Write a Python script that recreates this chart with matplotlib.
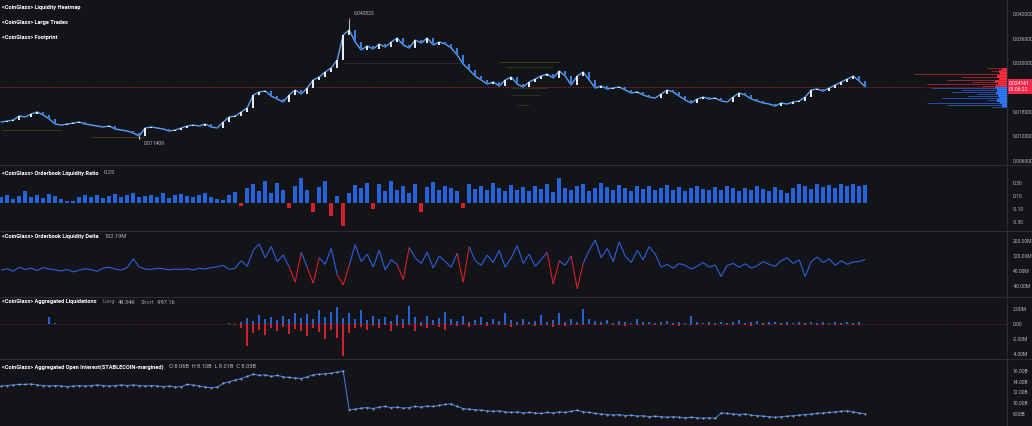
import numpy as np
import matplotlib
matplotlib.use('Agg')
import matplotlib.pyplot as plt
from matplotlib.collections import LineCollection
from matplotlib.lines import Line2D
import matplotlib.transforms as mtrans

plt.rcParams['font.family'] = ['Roboto', 'DejaVu Sans']

# ---------------- data ----------------
price_close = [0.01549, 0.01574, 0.01598, 0.01697, 0.01672, 0.01746, 0.01795, 0.01721, 0.01623, 0.01500,
               0.01475, 0.01500, 0.01525, 0.01549, 0.01500, 0.01475, 0.01451, 0.01426, 0.01451, 0.01377,
               0.01352, 0.01328, 0.01279, 0.01205, 0.01402, 0.01426, 0.01402, 0.01377, 0.01328, 0.01352,
               0.01402, 0.01451, 0.01475, 0.01451, 0.01500, 0.01426, 0.01402, 0.01549, 0.01672, 0.01697,
               0.01795, 0.01893, 0.02213, 0.02287, 0.02311, 0.02188, 0.02115, 0.02041, 0.02213, 0.02336,
               0.02238, 0.02385, 0.02582, 0.02656, 0.02779, 0.02877, 0.03074, 0.03688, 0.03811, 0.03516,
               0.03320, 0.03418, 0.03344, 0.03467, 0.03393, 0.03516, 0.03615, 0.03443, 0.03369, 0.03565,
               0.03492, 0.03615, 0.03443, 0.03516, 0.03467, 0.03369, 0.03197, 0.02975, 0.02828, 0.02680,
               0.02582, 0.02483, 0.02533, 0.02434, 0.02582, 0.02656, 0.02483, 0.02410, 0.02533, 0.02606,
               0.02680, 0.02729, 0.02631, 0.02803, 0.02680, 0.02459, 0.02680, 0.02779, 0.02582, 0.02385,
               0.02434, 0.02361, 0.02385, 0.02410, 0.02336, 0.02262, 0.02287, 0.02213, 0.02164, 0.02139,
               0.02238, 0.02336, 0.02287, 0.02188, 0.02090, 0.02016, 0.02115, 0.02164, 0.02115, 0.02139,
               0.02066, 0.02041, 0.02164, 0.02262, 0.02213, 0.02115, 0.02066, 0.02016, 0.01992, 0.01943,
               0.02016, 0.01992, 0.02041, 0.02066, 0.02164, 0.02336, 0.02361, 0.02311, 0.02385, 0.02459,
               0.02533, 0.02606, 0.02680, 0.02557, 0.024161]
price_high_value = 0.040823
price_high_index = 58
price_low_value = 0.011409
price_low_index = 23
current_price = 0.024161
countdown = "01:06:22"
price_ticks = [0.042, 0.036, 0.030, 0.018, 0.012, 0.006]

ratio = [0.08, 0.12, 0.06, 0.10, 0.18, 0.09, 0.11, 0.07, 0.13, 0.10,
         0.05, 0.02, 0.03, 0.09, 0.11, 0.08, 0.12, 0.07, 0.10, 0.13,
         0.09, 0.11, 0.14, 0.08, 0.10, 0.12, 0.09, 0.15, 0.07, 0.11,
         0.13, 0.10, 0.08, 0.12, 0.14, 0.09, 0.06, 0.04, 0.11, 0.16,
         -0.06, 0.22, 0.28, 0.18, 0.33, 0.15, 0.30, 0.20, -0.09, 0.26,
         0.37, 0.19, -0.14, 0.24, 0.33, -0.20, 0.10, -0.36, 0.15, 0.27,
         0.22, 0.30, -0.10, 0.28, 0.18, 0.33, 0.20, 0.25, 0.15, 0.29,
         -0.14, 0.24, 0.31, 0.19, 0.26, 0.22, 0.17, -0.09, 0.28, 0.21,
         0.25, 0.19, 0.30, 0.23, 0.17, 0.27, 0.20, 0.24, 0.18, 0.26,
         0.21, 0.29, 0.16, 0.38, 0.23, 0.19, 0.25, 0.28, 0.17, 0.22,
         0.30, 0.24, 0.20, 0.27, 0.22, 0.18, 0.26, 0.21, 0.25, 0.19,
         0.23, 0.27, 0.20, 0.24, 0.18, 0.22, 0.26, 0.21, 0.19, 0.24,
         0.20, 0.25, 0.22, 0.18, 0.23, 0.19, 0.26, 0.21, 0.17, 0.24,
         0.20, 0.15, 0.23, 0.28, 0.26, 0.21, 0.29, 0.24, 0.27, 0.22,
         0.28, 0.25, 0.29, 0.26, 0.27]
ratio_last = "0.25"
ratio_ticks = [0.30, 0.10, -0.10, -0.30]

delta = [45, 52, 38, 60, 48, 55, 42, 58, 50, 46,
         40, 48, 35, 44, 52, 47, 38, 55, 60, 50,
         45, 58, 105, 62, 50, 48, 55, 52, 46, 50,
         48, 52, 45, 55, 50, 58, 62, 70, 48, 55,
         95, 65, 150, 185, 110, 170, 90, 125, 60, -20,
         140, 60, -25, 110, 75, 160, 20, -35, 70, 180,
         90, 130, 60, 150, 45, 100, 75, -5, 165, 110,
         80, 140, 55, 120, 90, 60, 135, -20, 170, 95,
         70, 125, 85, 150, 60, 110, 175, 80, 130, 65,
         100, 140, -30, 95, 70, 120, -55, 80, 150, 205,
         110, 160, 90, 195, 120, 85, 150, 100, 170, 130,
         60, 75, 55, 80, 70, 50, 65, 85, 60, 72,
         10, 70, 80, 60, 78, 55, 68, 90, 75, 65,
         95, 110, 80, 100, 10, 90, 115, 85, 105, 70,
         95, 75, 88, 90, 102.19]
delta_last = "102.19M"
delta_ticks = [200, 120, 40, -40]

liq_long = [0, 0.05, 0, 0.02, 0, 0.03, 0, 0.05, 0.9, 0.1,
            0, 0, 0.02, 0, 0.03, 0, 0, 0.02, 0, 0,
            0.03, 0, 0, 0.05, 0, 0, 0.02, 0, 0, 0.03,
            0, 0, 0.02, 0, 0, 0.03, 0, 0, 0.1, 0.05,
            0.3, 0.8, 0.4, 1.2, 0.6, 0.9, 0.5, 1.1, 0.7, 1.5,
            0.8, 1.3, 0.6, 1.8, 0.9, 1.6, 2.2, 0.8, 1.4, 0.7,
            1.9, 0.5, 1.1, 0.6, 0.9, 0.4, 1.2, 0.6, 2.4, 0.9,
            0.3, 1.0, 0.5, 0.8, 1.6, 0.7, 0.4, 1.1, 0.3, 0.5,
            0.9, 0.3, 0.7, 0.4, 1.5, 0.5, 0.2, 0.6, 0.3, 0.4,
            1.2, 0.3, 0.5, 1.4, 0.2, 0.6, 0.3, 2.0, 0.7, 0.4,
            0.2, 0.5, 0.1, 0.4, 0.3, 0.1, 0.6, 0.2, 0.3, 0.1,
            0.2, 0.4, 0.1, 0.3, 0.1, 1.0, 0.2, 0.1, 0.3, 0.1,
            0.2, 0.1, 0.3, 0.5, 0.1, 0.2, 0.4, 0.1, 0.2, 0.3,
            0.1, 0.2, 0.1, 0.3, 0.1, 0.2, 0.1, 0.2, 0.1, 0.3,
            0.1, 0.2, 0.1, 0.3, 0.05]
liq_short = [0, 0, -0.02, 0, 0, 0, -0.02, 0, 0, 0,
             0, -0.02, 0, 0, 0, 0, -0.02, 0, 0, 0,
             0, 0, -0.03, 0, 0, 0, 0, -0.02, 0, 0,
             0, 0, 0, -0.02, 0, 0, 0, -0.03, 0, -0.1,
             -0.5, -3.0, -1.2, -0.8, -1.5, -0.6, -1.0, -0.4, -1.3, -0.7,
             -0.9, -1.6, -0.5, -1.1, -2.0, -0.8, -1.9, -4.3, -1.2, -0.6,
             -0.4, -0.8, -0.3, -0.6, -0.2, -0.9, -0.3, -0.5, -0.2, -1.0,
             -0.3, -0.6, -0.2, -0.4, -0.8, -0.2, -0.3, -0.1, -0.4, -0.2,
             -0.1, -0.3, -0.05, -0.2, -0.1, -0.4, -0.1, -0.2, -0.05, -0.3,
             -0.1, -0.2, -0.4, -0.1, -0.3, -0.1, -0.2, -0.1, -0.05, -0.2,
             -0.1, -0.05, -0.2, -0.1, -0.3, -0.05, -0.1, -0.2, -0.05, -0.1,
             -0.2, -0.05, -0.1, -0.3, -0.05, -0.1, -0.2, -0.05, -0.1, -0.2,
             -0.05, -0.1, -0.2, -0.05, -0.1, -0.3, -0.05, -0.1, -0.2, -0.05,
             -0.1, -0.2, -0.05, -0.1, -0.2, -0.05, -0.1, -0.2, -0.05, -0.1,
             -0.2, -0.05, -0.1, -0.2, -0.05]
liq_long_last = "49.34K"
liq_short_last = "-997.16"
liq_ticks = [2, 0, -2, -4]

oi = [13.2, 13.3, 13.4, 13.5, 13.5, 13.6, 13.4, 13.3, 13.2, 13.3,
      13.2, 13.1, 13.2, 13.3, 13.2, 13.3, 13.4, 13.3, 13.2, 13.3,
      13.4, 13.3, 13.4, 13.3, 13.2, 13.3, 13.2, 13.1, 13.2, 13.0,
      13.1, 13.5, 13.4, 13.2, 13.0, 12.9, 13.0, 13.7, 14.0, 14.3,
      14.6, 15.0, 15.4, 15.2, 15.3, 15.0, 15.2, 14.9, 14.8, 14.7,
      14.6, 14.9, 15.3, 15.4, 15.5, 15.6, 15.8, 16.0, 8.8, 8.9,
      9.1, 9.2, 9.0, 9.3, 9.4, 9.2, 9.3, 9.1, 9.2, 9.4,
      9.3, 9.5, 9.4, 9.6, 9.8, 9.9, 9.4, 9.0, 8.9, 8.8,
      8.7, 8.6, 8.5, 8.6, 8.4, 8.3, 8.4, 8.2, 8.3, 8.2,
      8.1, 8.3, 8.2, 8.4, 8.3, 8.5, 8.7, 8.4, 8.3, 8.1,
      8.0, 7.9, 7.8, 7.9, 7.7, 7.8, 7.6, 7.7, 7.5, 7.6,
      7.5, 7.4, 7.5, 7.4, 7.3, 7.4, 7.3, 7.2, 7.3, 7.2,
      8.2, 8.1, 8.0, 7.9, 8.0, 7.8, 7.7, 7.6, 7.5, 7.4,
      7.5, 7.6, 7.7, 7.8, 7.9, 8.0, 8.1, 8.2, 8.3, 8.4,
      8.5, 8.6, 8.4, 8.2, 8.03]
oi_ohlc_text = "O 8.06B  H 8.10B  L 8.01B  C 8.03B"
oi_ticks = [16, 14, 12, 10, 8]

# order-book depth profile (heatmap side bars): price level, depth
ask_levels = [0.02877, 0.02803, 0.02729, 0.02656, 0.02582, 0.02533, 0.02483, 0.02434]
ask_depth = [20, 16, 93, 45, 60, 35, 80, 25]
bid_levels = [0.02385, 0.02336, 0.02287, 0.02238, 0.02188, 0.02139, 0.02090, 0.02016, 0.01967, 0.01918]
bid_depth = [75, 45, 55, 30, 40, 65, 20, 80, 60, 15]
ask_band_levels = [0.0285, 0.0279, 0.0273, 0.0267, 0.0261, 0.0255, 0.0249, 0.0243]
ask_band_depth = [5, 8, 7, 10, 8, 12, 9, 11]
bid_band_levels = [0.0238, 0.0232, 0.0226, 0.0220, 0.0214, 0.0208, 0.0202, 0.0196]
bid_band_depth = [12, 10, 11, 9, 8, 10, 7, 5]

# faint liquidity lines in the heatmap: (price, start index, end index, colour)
liq_lines_price = [0.01352, 0.01180, 0.03000, 0.03025, 0.02902, 0.02385, 0.02213, 0.01967]
liq_lines_start = [0, 15, 57, 83, 84, 85, 85, 86]
liq_lines_end = [10, 24, 77, 93, 92, 91, 90, 88]
liq_lines_color = ['#8a5a1a', '#8a5a1a', '#4a4530', '#7a6a20', '#3f6b2a', '#4a5a22', '#4a5a22', '#4a5a22']

# ---------------- style ----------------
BG = '#131417'
GRID = '#2a2d35'
TICKC = '#b4b7bf'
BLUE = '#2563d9'
LBLUE = '#5b9ff0'
RED = '#d3202e'
WHITE = '#e9ebf0'
TFS = 4.1   # title font size
KFS = 3.6   # tick font size

W, H = 1032, 426
AX_R = 1007
fig = plt.figure(figsize=(W / 100, H / 100), dpi=100)
fig.patch.set_facecolor(BG)

N = len(price_close)
x = np.arange(N)
XLIM = (-0.2, AX_R / 6 - 0.2)


def make_ax(top, bottom):
    ax = fig.add_axes([0, 1 - bottom / H, AX_R / W, (bottom - top) / H])
    ax.set_facecolor(BG)
    for s in ax.spines.values():
        s.set_visible(False)
    ax.set_xlim(*XLIM)
    ax.set_xticks([])
    ax.yaxis.tick_right()
    ax.tick_params(axis='y', length=0, pad=4, labelsize=KFS, labelcolor=TICKC)
    return ax


def title(ax, ypix_from_top, main, extras=()):
    ax_h = ax.get_position().height * H
    t = ax.text(2 / (AX_R), 1 - ypix_from_top / ax_h, main, transform=ax.transAxes,
                fontsize=TFS, color='white', fontweight='bold', va='center', ha='left')
    prev = t
    for txt, col, gap in extras:
        prev = ax.annotate(txt, xy=(1, 0.5), xycoords=prev, xytext=(gap, 0),
                           textcoords='offset points', fontsize=TFS, color=col,
                           va='center', ha='left')
    return t


# ---- price panel ----
axp = make_ax(0, 165)
axp.set_ylim(0.00492, 0.04549)
axp.set_yticks(price_ticks)
axp.set_yticklabels([f"{v:.6f}" for v in price_ticks])

for pr, s, e, c in zip(liq_lines_price, liq_lines_start, liq_lines_end, liq_lines_color):
    axp.hlines(pr, s, e, colors=c, lw=0.5, alpha=0.6, zorder=1)

axp.axhline(current_price, color='#e0303c', lw=0.6, ls=(0, (1, 2)), zorder=2)

closes = np.array(price_close)
opens = np.r_[closes[0], closes[:-1]]
up = closes >= opens
axp.plot(x, closes, color=LBLUE, lw=1.0, zorder=3)
body_b = np.minimum(opens, closes)
body_h = np.maximum(np.abs(closes - opens), 0.00012)
axp.bar(x[up], body_h[up], bottom=body_b[up], width=0.28, color=WHITE, zorder=4, linewidth=0)
axp.bar(x[~up], body_h[~up], bottom=body_b[~up], width=0.28, color='#3a7de0', zorder=4, linewidth=0)
axp.vlines(price_high_index, closes[price_high_index], price_high_value, color=WHITE, lw=0.6, zorder=4)
axp.vlines(price_low_index, price_low_value, closes[price_low_index], color=WHITE, lw=0.6, zorder=4)
axp.annotate(f"{price_high_value:.6f}", xy=(price_high_index, price_high_value), xytext=(3, 2),
             textcoords='offset points', fontsize=KFS, color=TICKC, va='bottom', ha='left',
             arrowprops=dict(arrowstyle='-', color=TICKC, lw=0.4, shrinkA=0, shrinkB=0))
axp.annotate(f"{price_low_value:.6f}", xy=(price_low_index, price_low_value), xytext=(3, -2),
             textcoords='offset points', fontsize=KFS, color=TICKC, va='top', ha='left',
             arrowprops=dict(arrowstyle='-', color=TICKC, lw=0.4, shrinkA=0, shrinkB=0))

tr = mtrans.blended_transform_factory(axp.transAxes, axp.transData)
axp.text(1.002, current_price, f"{current_price:.6f}\n{countdown}", transform=tr, fontsize=KFS,
         color='white', va='center', ha='left', linespacing=1.15, clip_on=False, zorder=10,
         bbox=dict(boxstyle='square,pad=0.4', fc='#f0284a', ec='none'))

hpix = 165
for i, t in enumerate(["<CoinGlass> Liquidity Heatmap", "<CoinGlass> Large Trades", "<CoinGlass> Footprint"]):
    axp.text(2 / AX_R, 1 - (8 + 14.5 * i) / hpix, t, transform=axp.transAxes, fontsize=TFS,
             color='white', fontweight='bold', va='center', ha='left')

# depth profile overlay
axh = fig.add_axes([880 / W, 1 - 165 / H, 127 / W, 165 / H], sharey=axp)
axh.set_facecolor('none')
axh.set_xlim(127, 0)
axh.axis('off')
axh.hlines(ask_levels, 0, ask_depth, colors='#c02a3c', lw=0.7, alpha=0.75)
axh.hlines(bid_levels, 0, bid_depth, colors='#2f62d6', lw=0.7, alpha=0.75)
axh.barh(ask_band_levels, ask_band_depth, height=0.0006, color='#ff2a3a', linewidth=0)
axh.barh(bid_band_levels, bid_band_depth, height=0.0006, color='#2a7bff', linewidth=0)
axp.set_ylim(0.00492, 0.04549)

# ---- ratio panel ----
axr = make_ax(165, 231)
axr.set_ylim(-0.438, 0.577)
axr.set_yticks(ratio_ticks)
axr.set_yticklabels([f"{v:.2f}" for v in ratio_ticks])
rv = np.array(ratio)
axr.bar(x, rv, width=0.6, color=np.where(rv >= 0, BLUE, RED), linewidth=0)
title(axr, 8, "<CoinGlass> Orderbook Liquidity Ratio", [(ratio_last, TICKC, 4)])

# ---- delta panel ----
axd = make_ax(231, 297)
axd.set_ylim(-98.7, 253)
axd.set_yticks(delta_ticks)
axd.set_yticklabels([f"{v:.2f}M" for v in delta_ticks])
dv = np.array(delta, dtype=float)
pts = np.column_stack([x, dv])
segs = np.stack([pts[:-1], pts[1:]], axis=1)
seg_cols = [RED if min(a, b) < 0 else '#2e5fe0' for a, b in zip(dv[:-1], dv[1:])]
axd.add_collection(LineCollection(segs, colors=seg_cols, linewidths=0.8))
title(axd, 6, "<CoinGlass> Orderbook Liquidity Delta", [(delta_last, TICKC, 4)])

# ---- liquidations panel ----
axl = make_ax(297, 359)
axl.set_ylim(-4.67, 3.6)
axl.set_yticks(liq_ticks)
axl.set_yticklabels([f"{v:.2f}M" if v != 0 else "0.00" for v in liq_ticks])
axl.axhline(0, color='#b0243a', lw=0.5, ls=(0, (1, 1.5)))
axl.bar(x, liq_long, width=0.3, color=BLUE, linewidth=0)
axl.bar(x, liq_short, width=0.3, color=RED, linewidth=0)
title(axl, 5, "<CoinGlass> Aggregated Liquidations",
      [("Long", '#8a8d96', 4), (liq_long_last, TICKC, 2), ("Short", '#8a8d96', 4), (liq_short_last, TICKC, 2)])

# ---- open interest panel ----
axo = make_ax(359, 426)
axo.set_ylim(5.77, 18.23)
axo.set_yticks(oi_ticks)
axo.set_yticklabels([f"{v:.2f}B" for v in oi_ticks])
axo.plot(x, oi, color='#3b78d8', lw=0.8)
axo.plot(x, oi, ls='none', marker='.', ms=0.8, color='#dfe6f5', alpha=0.8)
title(axo, 8, "<CoinGlass> Aggregated Open Interest(STABLECOIN-margined)", [(oi_ohlc_text, TICKC, 4)])

# separators and axis line
for yy in [165, 231, 297, 359]:
    fig.add_artist(Line2D([0, 1], [1 - yy / H, 1 - yy / H], transform=fig.transFigure,
                          color=GRID, lw=0.8))
fig.add_artist(Line2D([AX_R / W, AX_R / W], [0, 1], transform=fig.transFigure, color=GRID, lw=0.8))

fig.savefig('out.png', dpi=100, facecolor=BG)
